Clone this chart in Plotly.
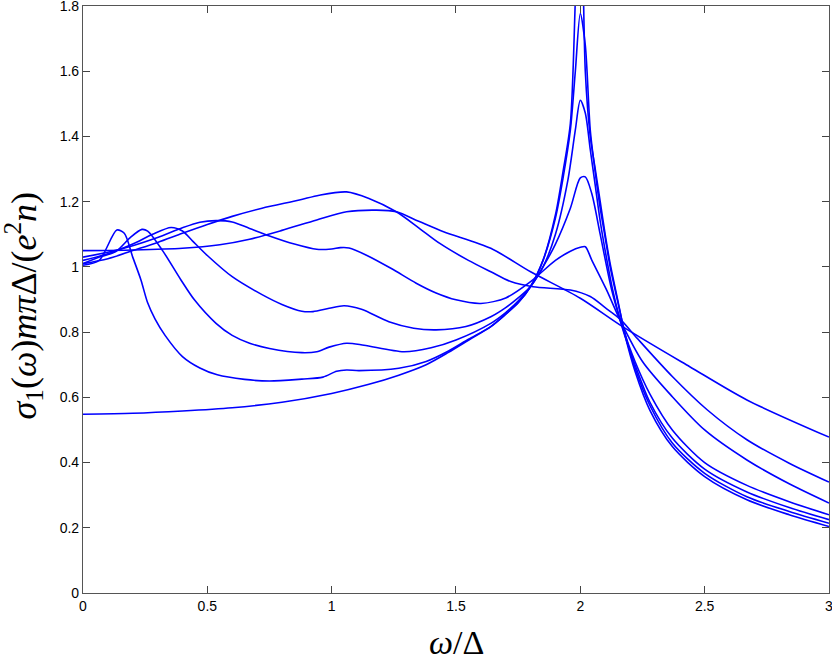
import plotly.graph_objects as go

# sigma_1(omega) curves (omega/Delta, sigma)
x1 = [0, 0.2, 0.4, 0.6, 0.8, 1.0, 1.15, 1.27, 1.38, 1.47, 1.55, 1.64, 1.7, 1.75, 1.8, 1.85, 1.9, 1.93, 1.96,
      1.98, 2.0, 2.02, 2.04, 2.06, 2.08, 2.1, 2.12, 2.15, 2.18, 2.22, 2.28, 2.37, 2.5, 2.67, 2.84, 3.0]
s1 = [0.548, 0.551, 0.558, 0.568, 0.585, 0.612, 0.64, 0.668, 0.70, 0.738, 0.775, 0.817, 0.855, 0.89, 0.94, 1.02,
      1.16, 1.29, 1.44, 1.82, 2.3, 1.6, 1.40, 1.30, 1.20, 1.10, 1.01, 0.90, 0.79, 0.68, 0.56, 0.449, 0.357, 0.286,
      0.240, 0.204]

x2 = [0, 0.065, 0.136, 0.166, 0.2, 0.233, 0.26, 0.29, 0.33, 0.4, 0.47, 0.54, 0.65, 0.75, 0.88, 0.965, 1.02, 1.06,
      1.11, 1.27, 1.38, 1.47, 1.55, 1.64, 1.7, 1.75, 1.8, 1.85, 1.9, 1.93, 1.96, 1.98, 2.0, 2.02, 2.04, 2.06, 2.08,
      2.1, 2.12, 2.15, 2.18, 2.22, 2.28, 2.37, 2.5, 2.67, 2.84, 3.0]
s2 = [1.005, 1.02, 1.113, 1.103, 1.03, 0.96, 0.89, 0.84, 0.79, 0.725, 0.69, 0.669, 0.655, 0.650, 0.656, 0.662,
      0.680, 0.684, 0.682, 0.689, 0.71, 0.742, 0.778, 0.817, 0.855, 0.89, 0.94, 1.02, 1.15, 1.27, 1.42, 1.6, 1.777,
      1.68, 1.42, 1.29, 1.18, 1.09, 1.0, 0.895, 0.795, 0.69, 0.575, 0.46, 0.367, 0.295, 0.250, 0.214]

x3 = [0, 0.066, 0.132, 0.19, 0.237, 0.26, 0.32, 0.394, 0.448, 0.535, 0.6, 0.67, 0.75, 0.88, 0.94, 0.99, 1.06, 1.13,
      1.29, 1.4, 1.5, 1.64, 1.7, 1.75, 1.8, 1.85, 1.9, 1.95, 1.98, 2.0, 2.02, 2.04, 2.06, 2.08, 2.1, 2.13, 2.17,
      2.22, 2.28, 2.37, 2.5, 2.67, 2.84, 3.0]
s3 = [1.01, 1.03, 1.047, 1.09, 1.115, 1.11, 1.05, 0.96, 0.899, 0.827, 0.79, 0.766, 0.75, 0.737, 0.740, 0.754,
      0.766, 0.760, 0.740, 0.752, 0.776, 0.827, 0.86, 0.895, 0.94, 1.0, 1.1, 1.266, 1.42, 1.511, 1.472, 1.36, 1.25,
      1.14, 1.05, 0.93, 0.81, 0.70, 0.585, 0.475, 0.38, 0.31, 0.262, 0.225]

x4 = [0, 0.1, 0.2, 0.28, 0.354, 0.4, 0.44, 0.5, 0.6, 0.72, 0.8, 0.88, 0.925, 0.99, 1.05, 1.12, 1.23, 1.33, 1.42,
      1.54, 1.64, 1.7, 1.75, 1.8, 1.85, 1.9, 1.96, 2.0, 2.02, 2.046, 2.08, 2.126, 2.167, 2.22, 2.28, 2.37, 2.5, 2.67,
      2.84, 3.0]
s4 = [1.02, 1.04, 1.07, 1.10, 1.121, 1.11, 1.08, 1.035, 0.97, 0.915, 0.885, 0.864, 0.863, 0.873, 0.881, 0.87,
      0.832, 0.812, 0.807, 0.817, 0.847, 0.875, 0.905, 0.94, 1.0, 1.07, 1.18, 1.273, 1.276, 1.225, 1.10, 0.93, 0.822,
      0.71, 0.61, 0.50, 0.40, 0.33, 0.280, 0.240]

x5 = [0, 0.1, 0.2, 0.3, 0.4, 0.47, 0.535, 0.6, 0.67, 0.75, 0.85, 0.94, 1.0, 1.035, 1.07, 1.14, 1.24, 1.34, 1.42,
      1.5, 1.6, 1.7, 1.8, 1.9, 1.96, 2.0, 2.02, 2.046, 2.106, 2.16, 2.25, 2.37, 2.5, 2.67, 2.84, 3.0]
s5 = [1.03, 1.045, 1.065, 1.09, 1.12, 1.137, 1.142, 1.138, 1.118, 1.095, 1.07, 1.054, 1.055, 1.059, 1.058, 1.036,
      0.995, 0.95, 0.92, 0.899, 0.888, 0.905, 0.955, 1.02, 1.048, 1.06, 1.062, 1.021, 0.929, 0.837, 0.71, 0.602,
      0.50, 0.408, 0.335, 0.276]

x6 = [0, 0.1, 0.2, 0.3, 0.4, 0.5, 0.6, 0.72, 0.87, 0.95, 1.06, 1.15, 1.26, 1.35, 1.435, 1.55, 1.64, 1.72, 1.81,
      1.96, 2.04, 2.1, 2.16, 2.23, 2.37, 2.51, 2.67, 2.84, 3.0]
s6 = [1.01, 1.025, 1.05, 1.075, 1.103, 1.13, 1.155, 1.18, 1.205, 1.22, 1.23, 1.21, 1.169, 1.12, 1.072, 1.02, 0.985,
      0.955, 0.939, 0.929, 0.909, 0.875, 0.84, 0.78, 0.664, 0.562, 0.47, 0.398, 0.34]

x7 = [0, 0.2, 0.4, 0.55, 0.67, 0.8, 0.94, 1.06, 1.18, 1.26, 1.35, 1.45, 1.64, 1.8, 2.0, 2.17, 2.44, 2.67, 3.0]
s7 = [1.05, 1.052, 1.057, 1.068, 1.085, 1.112, 1.144, 1.169, 1.174, 1.169, 1.14, 1.108, 1.057, 0.985, 0.904,
      0.817, 0.694, 0.592, 0.478]

xs = [x1, x2, x3, x4, x5, x6, x7]
ss = [s1, s2, s3, s4, s5, s6, s7]

fig = go.Figure()
for xv, sv in zip(xs, ss):
    fig.add_trace(go.Scatter(x=xv, y=sv, mode="lines",
                             line=dict(color="#0000ff", width=1.6, shape="spline", smoothing=0.8),
                             showlegend=False, hoverinfo="skip"))

axis_style = dict(showgrid=False, zeroline=False, showline=True, mirror="ticks",
                  linecolor="#555555", linewidth=1.2, ticks="inside", ticklen=7,
                  tickcolor="#444444", ticklabeloverflow="allow", automargin=False,
                  tickfont=dict(family="Liberation Sans", size=14, color="black"))

fig.update_layout(
    width=832, height=663,
    margin=dict(l=83, r=3, t=6, b=70),
    plot_bgcolor="white", paper_bgcolor="white",
    xaxis=dict(range=[0, 3.0001], tickvals=[0, 0.5, 1, 1.5, 2, 2.5, 3],
               ticktext=["0", "0.5", "1", "1.5", "2", "2.5", "3"], **axis_style),
    yaxis=dict(range=[0, 1.8001], tickvals=[0, 0.2, 0.4, 0.6, 0.8, 1, 1.2, 1.4, 1.6, 1.8],
               ticktext=["0", "0.2", "0.4", "0.6", "0.8", "1", "1.2", "1.4", "1.6", "1.8"], **axis_style),
)

# axis labels placed as annotations (math-style italics)
fig.add_annotation(x=-0.079, y=0.49, xref="paper", yref="paper", showarrow=False, textangle=-90,
                   xanchor="center", yanchor="middle",
                   text="<i>σ</i><sub>1</sub>(<i>ω</i>)<i>mπ</i>Δ/(<i>e</i><sup>2</sup><i>n</i>)",
                   font=dict(family="Liberation Serif", size=36, color="black"))
fig.add_annotation(x=0.5, y=-0.085, xref="paper", yref="paper", showarrow=False,
                   xanchor="center", yanchor="middle",
                   text="<i>ω</i>/Δ",
                   font=dict(family="Liberation Serif", size=34, color="black"))

# remove the default page margin so the figure sits at the window origin
fig.write_html("out.html", config={"displayModeBar": False},
               post_script="document.body.style.margin='0px';")
